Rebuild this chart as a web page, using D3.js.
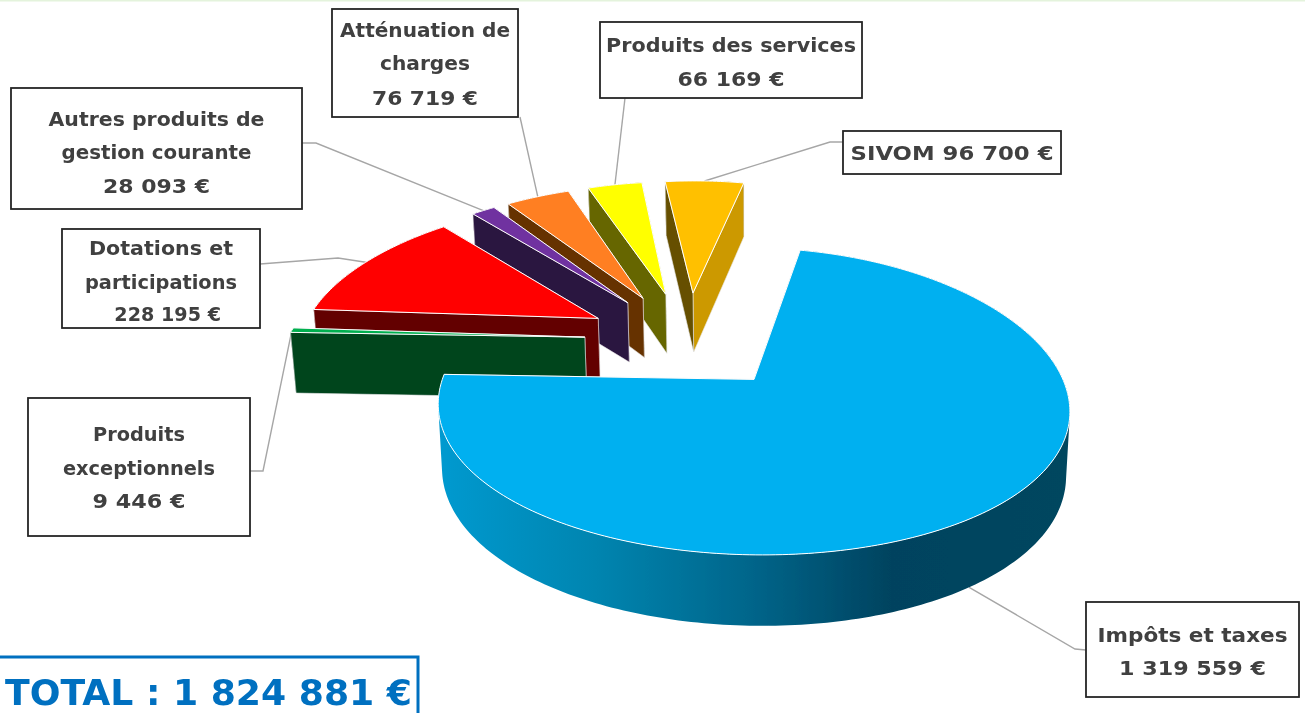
<!DOCTYPE html>
<html><head><meta charset="utf-8">
<script src="https://cdn.jsdelivr.net/npm/d3@7"></script>
<style>html,body{margin:0;padding:0;background:#fff;overflow:hidden}</style>
</head><body><svg id="c" width="1305" height="713"></svg>
<script>
// ---- data ----
const categories = ["Impôts et taxes","Produits exceptionnels","Dotations et participations","Autres produits de gestion courante","Atténuation de charges","Produits des services","SIVOM"];
const values = [1319559, 9446, 228195, 28093, 76719, 66169, 96700];
const valueLabels = ["1 319 559 €","9 446 €","228 195 €","28 093 €","76 719 €","66 169 €","96 700 €"];
const totalLabel = "TOTAL : 1 824 881 €";
// ---- styles ----
const faceColors = ["#00b0f0","#00b050","#ff0000","#7030a0","#ff7f21","#ffff00","#ffc000"];
const wallColors = ["#00658a","#00441f","#640000","#2c1340","#663300","#666600","#665000"];
const endWallColors = ["#00658a","#00441f","#640000","#2c1340","#663300","#666600","#cc9900"];
// label layout: box [x,y,w,h], text lines centre-x and centre-ys, leader elbow points
const labelLines = [["Impôts et taxes","1 319 559 €"],["Produits","exceptionnels","9 446 €"],["Dotations et","participations","  228 195 €"],["Autres produits de","gestion courante","28 093 €"],["Atténuation de","charges","76 719 €"],["Produits des services","66 169 €"],["SIVOM 96 700 €"]];
const boxes = [[1086,602,213,95],[28,398,222,138],[62,229,198,99],[11,88,291,121],[332,9,186,108],[600,22,262,76],[843,131,218,43]];
const lineYs = [[635,668],[434,468,501],[248,282,314],[119,152,186],[30,63,98],[45,79],[153]];
const lineWidths = [[190,147],[92,152,93],[144,152,120],[216,190,107],[170,90,106],[250,107],[203]];
const leaders = [[[1086,650],[1075,649]],[[250,471],[263,471]],[[260,264],[338,258]],[[302,143],[316,143]],[[520,117]],[[625,98]],[[843,142],[830,142]]];
const leaderAngleNudge = [0.05,0,0,0,0,0,0];

// ---- projection of pie plane (perspective) ----
const startDeg = 10.2, explode = 0.35, k = 1/7, R = 311;
const cx0 = -0.22, cy0 = 0.28;   // pie centre on its plane
const Ax = 753, Yh = -675, A = 1056;
function project(x, y){
  const s = 1/(1+k*y);
  const X = Ax + R*x*Math.pow(s,1.3);
  return [X, Yh + A*s + (X-Ax)*0.012];
}
function drop(p){ // same point on the lower plane
  return [p[0] + 0.012*(Ax-p[0]), p[1] + 54 + (p[1]-186)*0.0459];
}
const pie = d3.pie().sort(null).value(d=>d)
  .startAngle(startDeg*Math.PI/180).endAngle((startDeg+360)*Math.PI/180);
const arcs = pie(values);
function apexOf(a){
  const m=(a.startAngle+a.endAngle)/2;
  return [cx0+explode*Math.sin(m), cy0+explode*Math.cos(m)];
}
function rimPoint(a,t){
  const ap=apexOf(a);
  return [ap[0]+Math.sin(t), ap[1]+Math.cos(t)];
}
function rim(a){
  const n=Math.max(2,Math.ceil((a.endAngle-a.startAngle)/(Math.PI/180)));
  return d3.range(n+1).map(i=>{
    const t=a.startAngle+(a.endAngle-a.startAngle)*i/n;
    const p=rimPoint(a,t); return project(p[0],p[1]);
  });
}
const line=d3.line();
const svg=d3.select("#c");
const defs=svg.append("defs");
const gr=defs.append("linearGradient").attr("id","sideBlue").attr("gradientUnits","userSpaceOnUse")
  .attr("x1",437).attr("x2",1068).attr("y1",0).attr("y2",0);
[[0,"#009ad0"],[0.25,"#0085b0"],[0.5,"#00658a"],[0.72,"#00435f"],[1,"#00465f"]].forEach(s=>gr.append("stop").attr("offset",s[0]).attr("stop-color",s[1]));
const blur=defs.append("filter").attr("id","soft").attr("x","-2%").attr("y","-2%").attr("width","104%").attr("height","104%");
blur.append("feGaussianBlur").attr("stdDeviation",0.45);

svg.append("rect").attr("width",1305).attr("height",713).attr("fill","#fff");
const root=svg.append("g").attr("filter","url(#soft)");
root.append("rect").attr("width",1305).attr("height",1.5).attr("fill","#e4f3dc");

// leaders beneath the pie
const gLead=root.append("g").attr("fill","none").attr("stroke","#a6a6a6").attr("stroke-width",1.4);
arcs.forEach((a,i)=>{
  const m=(a.startAngle+a.endAngle)/2+leaderAngleNudge[i];
  const q=rimPoint(a,m); let p=project(q[0],q[1]);
  if(i===0) p=drop(p);
  gLead.append("path").attr("d",line(leaders[i].concat([p])));
});

// same-turn quad, so overlapping quads in one path add up under nonzero fill
function oriented(q){ return d3.polygonArea(q)<0 ? q.slice().reverse() : q; }

// slices back to front
const order=[6,5,4,3,2,1,0];
const gPie=root.append("g");
order.forEach(i=>{
  const a=arcs[i], top=rim(a), ap=apexOf(a), apx=project(ap[0],ap[1]);
  const bot=top.map(drop), apb=drop(apx);
  const g=gPie.append("g");
  const wallFill = i===0 ? "url(#sideBlue)" : wallColors[i];
  // outer wall: one path sweeping each rim step down to the lower plane
  const sweep=top.slice(1).map((p,j)=>line(oriented([top[j],p,bot[j+1],bot[j]]))+"Z").join("");
  g.append("path").attr("d",sweep).attr("fill",wallFill).attr("fill-rule","nonzero");
  // end edge wall, start edge wall
  g.append("path").attr("d",line([apx,top[top.length-1],bot[bot.length-1],apb])+"Z").attr("fill",endWallColors[i]).attr("stroke","#e8e8e8").attr("stroke-width",0.6);
  g.append("path").attr("d",line([apx,top[0],bot[0],apb])+"Z").attr("fill",wallColors[i]).attr("stroke","#e8e8e8").attr("stroke-width",0.6);
  // top face
  g.append("path").attr("d",line([apx].concat(top))+"Z").attr("fill",faceColors[i]).attr("stroke","#fff").attr("stroke-width",1).attr("stroke-linejoin","round");
});

// labels
const gLab=root.append("g");
const fontFam="'Comic Sans MS','DejaVu Sans',sans-serif";
categories.forEach((c,i)=>{
  const b=boxes[i];
  gLab.append("rect").attr("x",b[0]).attr("y",b[1]).attr("width",b[2]).attr("height",b[3])
    .attr("fill","#fff").attr("stroke","#262626").attr("stroke-width",1.8);
  labelLines[i].forEach((t,j)=>{
    gLab.append("text").text(t).attr("x",b[0]+b[2]/2).attr("y",lineYs[i][j]).attr("dy","0.35em")
      .attr("text-anchor","middle").attr("font-family",fontFam).attr("font-weight",700)
      .attr("font-size",19).attr("fill","#404040").attr("xml:space","preserve")
      .attr("textLength",lineWidths[i][j]).attr("lengthAdjust","spacingAndGlyphs");
  });
});
root.append("rect").attr("x",-3).attr("y",657).attr("width",421).attr("height",60)
  .attr("fill","#fff").attr("stroke","#0070c0").attr("stroke-width",3);
root.append("text").text(totalLabel).attr("x",5).attr("y",692).attr("dy","0.35em")
  .attr("font-family",fontFam).attr("font-weight",700).attr("font-size",36).attr("fill","#0070c0")
  .attr("textLength",407).attr("lengthAdjust","spacingAndGlyphs");
</script></body></html>
